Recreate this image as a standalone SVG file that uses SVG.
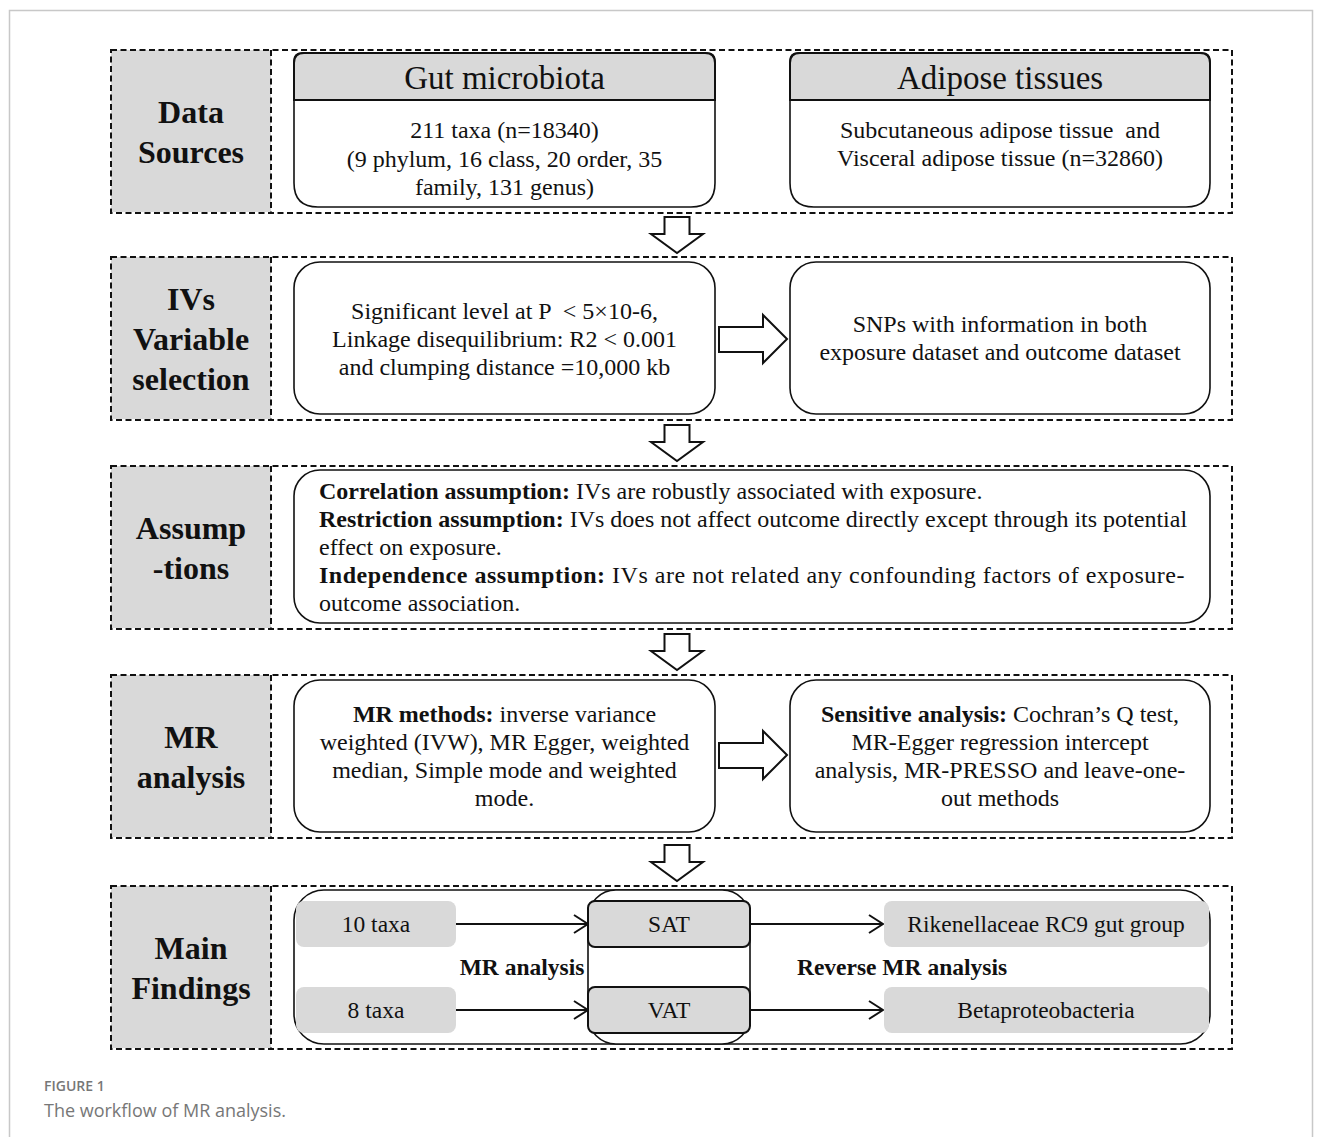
<svg xmlns="http://www.w3.org/2000/svg" width="1322" height="1137" viewBox="0 0 1322 1137">
<defs>
<style>
.frame{fill:none;stroke:#111;stroke-width:2;stroke-dasharray:6 3.5}
.div{fill:none;stroke:#111;stroke-width:2;stroke-dasharray:6 3.5}
.lbl{fill:#d9d9d9}
.lt{font-family:"Liberation Serif",serif;font-weight:bold;font-size:32px;fill:#111;text-anchor:middle}
.box{fill:#fff;stroke:#111;stroke-width:1.6}
.hdr{fill:#d9d9d9;stroke:#111;stroke-width:2}
.ht{font-family:"Liberation Serif",serif;font-size:33px;fill:#111;text-anchor:middle}
.t{font-family:"Liberation Serif",serif;font-size:24px;fill:#111;text-anchor:middle}
.tl{font-family:"Liberation Serif",serif;font-size:24px;fill:#111}
.f{font-size:23.5px}
.b{font-weight:bold}
.pill{fill:#d9d9d9}
.blk{fill:#fff;stroke:#111;stroke-width:2}
.con{fill:none;stroke:#111;stroke-width:2}
</style>
<marker id="ah" markerWidth="16" markerHeight="20" refX="15" refY="10" orient="auto" markerUnits="userSpaceOnUse">
<polyline points="1,1 15,10 1,19" fill="none" stroke="#111" stroke-width="2"/>
</marker>
</defs>
<rect width="1322" height="1137" fill="#fff"/>
<path d="M9.5,1137 V10.5 H1312.5 V1137" fill="none" stroke="#c8c8c8" stroke-width="1.5"/>

<!-- Row 1 -->
<g id="row-data-sources">
<rect class="lbl" x="111" y="50" width="160" height="162"/>
<rect class="frame" x="111" y="50" width="1121" height="163"/>
<line class="div" x1="271" y1="50" x2="271" y2="213"/>
<text class="lt" x="191" y="123">Data</text>
<text class="lt" x="191" y="163">Sources</text>
</g>
<g id="node-gut">
<path class="box" d="M302,53 H707 Q715,53 715,61 V183 Q715,207 691,207 H318 Q294,207 294,183 V61 Q294,53 302,53 Z"/>
<path class="hdr" d="M304,53 H705 Q715,53 715,63 V100 H294 V63 Q294,53 304,53 Z"/>
<text class="ht" x="504.5" y="89">Gut microbiota</text>
<text class="t" x="504.5" y="138">211 taxa (n=18340)</text>
<text class="t" x="504.5" y="167">(9 phylum, 16 class, 20 order, 35</text>
<text class="t" x="504.5" y="195">family, 131 genus)</text>
</g>
<g id="node-adipose">
<path class="box" d="M798,53 H1202 Q1210,53 1210,61 V183 Q1210,207 1186,207 H814 Q790,207 790,183 V61 Q790,53 798,53 Z"/>
<path class="hdr" d="M800,53 H1200 Q1210,53 1210,63 V100 H790 V63 Q790,53 800,53 Z"/>
<text class="ht" x="1000" y="89">Adipose tissues</text>
<text class="t" x="1000" y="138" xml:space="preserve">Subcutaneous adipose tissue  and</text>
<text class="t" x="1000" y="166">Visceral adipose tissue (n=32860)</text>
</g>

<!-- Row 2 -->
<g id="row-ivs">
<rect class="lbl" x="111" y="257" width="160" height="162"/>
<rect class="frame" x="111" y="257" width="1121" height="163"/>
<line class="div" x1="271" y1="257" x2="271" y2="420"/>
<text class="lt" x="191" y="310">IVs</text>
<text class="lt" x="191" y="350">Variable</text>
<text class="lt" x="191" y="390">selection</text>
</g>
<g id="node-iv-criteria">
<rect class="box" x="294" y="262" width="421" height="152" rx="26"/>
<text class="t" x="504.5" y="319" xml:space="preserve">Significant level at P  &lt; 5×10-6,</text>
<text class="t" x="504.5" y="347">Linkage disequilibrium: R2 &lt; 0.001</text>
<text class="t" x="504.5" y="375">and clumping distance =10,000 kb</text>
</g>
<g id="node-snps">
<rect class="box" x="790" y="262" width="420" height="152" rx="26"/>
<text class="t" x="1000" y="332">SNPs with information in both</text>
<text class="t" x="1000" y="360">exposure dataset and outcome dataset</text>
</g>

<!-- Row 3 -->
<g id="row-assumptions">
<rect class="lbl" x="111" y="466" width="160" height="162"/>
<rect class="frame" x="111" y="466" width="1121" height="163"/>
<line class="div" x1="271" y1="466" x2="271" y2="629"/>
<text class="lt" x="191" y="539">Assump</text>
<text class="lt" x="191" y="579">-tions</text>
</g>
<g id="node-assumptions">
<rect class="box" x="294" y="470" width="916" height="153" rx="26"/>
<text class="tl" x="319" y="499"><tspan class="b">Correlation assumption:</tspan> IVs are robustly associated with exposure.</text>
<text class="tl" x="319" y="527"><tspan class="b">Restriction assumption:</tspan> IVs does not affect outcome directly except through its potential</text>
<text class="tl" x="319" y="555">effect on exposure.</text>
<text class="tl" x="319" y="583" letter-spacing="0.52"><tspan class="b">Independence assumption:</tspan> IVs are not related any confounding factors of exposure-</text>
<text class="tl" x="319" y="611">outcome association.</text>
</g>

<!-- Row 4 -->
<g id="row-mr">
<rect class="lbl" x="111" y="675" width="160" height="162"/>
<rect class="frame" x="111" y="675" width="1121" height="163"/>
<line class="div" x1="271" y1="675" x2="271" y2="838"/>
<text class="lt" x="191" y="748">MR</text>
<text class="lt" x="191" y="788">analysis</text>
</g>
<g id="node-mr-methods">
<rect class="box" x="294" y="680" width="421" height="152" rx="26"/>
<text class="t" x="504.5" y="722"><tspan class="b">MR methods:</tspan> inverse variance</text>
<text class="t" x="504.5" y="750">weighted (IVW), MR Egger, weighted</text>
<text class="t" x="504.5" y="778">median, Simple mode and weighted</text>
<text class="t" x="504.5" y="806">mode.</text>
</g>
<g id="node-sensitive">
<rect class="box" x="790" y="680" width="420" height="152" rx="26"/>
<text class="t" x="1000" y="722"><tspan class="b">Sensitive analysis:</tspan> Cochran’s Q test,</text>
<text class="t" x="1000" y="750">MR-Egger regression intercept</text>
<text class="t" x="1000" y="778">analysis, MR-PRESSO and leave-one-</text>
<text class="t" x="1000" y="806">out methods</text>
</g>

<!-- Row 5 -->
<g id="row-findings">
<rect class="lbl" x="111" y="886" width="160" height="162"/>
<rect class="frame" x="111" y="886" width="1121" height="163"/>
<line class="div" x1="271" y1="886" x2="271" y2="1049"/>
<text class="lt" x="191" y="959">Main</text>
<text class="lt" x="191" y="999">Findings</text>
</g>
<g id="node-findings-container">
<rect class="box" x="294" y="890" width="916" height="154" rx="30"/>
<rect class="box" x="588" y="890" width="162" height="154" rx="28"/>
<text class="tl f b" x="522" y="975" text-anchor="middle">MR analysis</text>
<text class="tl f b" x="902" y="975" text-anchor="middle">Reverse MR analysis</text>
</g>
<g id="node-10taxa">
<rect class="pill" x="296" y="901" width="160" height="46" rx="8"/>
<text class="t f" x="376" y="932">10 taxa</text>
</g>
<g id="node-8taxa">
<rect class="pill" x="296" y="987" width="160" height="46" rx="8"/>
<text class="t f" x="376" y="1018">8 taxa</text>
</g>
<g id="node-sat">
<rect class="hdr" x="588" y="901" width="162" height="46" rx="7"/>
<text class="t f" x="669" y="932">SAT</text>
</g>
<g id="node-vat">
<rect class="hdr" x="588" y="987" width="162" height="46" rx="7"/>
<text class="t f" x="669" y="1018">VAT</text>
</g>
<g id="node-rikenellaceae">
<rect class="pill" x="884" y="901" width="325" height="46" rx="8"/>
<text class="t f" x="1046" y="932">Rikenellaceae RC9 gut group</text>
</g>
<g id="node-beta">
<rect class="pill" x="884" y="987" width="325" height="46" rx="8"/>
<text class="t f" x="1046" y="1018">Betaproteobacteria</text>
</g>

<!-- Connectors -->
<g id="connectors">
<polygon class="blk" points="664.5,217 689.5,217 689.5,234 703,234 677,253 651,234 664.5,234"/>
<polygon class="blk" points="664.5,425 689.5,425 689.5,442 703,442 677,461 651,442 664.5,442"/>
<polygon class="blk" points="664.5,634 689.5,634 689.5,651 703,651 677,670 651,651 664.5,651"/>
<polygon class="blk" points="664.5,845 689.5,845 689.5,862 703,862 677,881 651,862 664.5,862"/>
<polygon class="blk" points="719,327 763,327 763,315 787,339 763,363 763,352 719,352"/>
<polygon class="blk" points="719,743 763,743 763,731 787,755 763,779 763,768 719,768"/>
<line class="con" x1="456" y1="924" x2="588" y2="924" marker-end="url(#ah)"/>
<line class="con" x1="456" y1="1010" x2="588" y2="1010" marker-end="url(#ah)"/>
<line class="con" x1="750" y1="924" x2="883" y2="924" marker-end="url(#ah)"/>
<line class="con" x1="750" y1="1010" x2="883" y2="1010" marker-end="url(#ah)"/>
</g>

<text x="44" y="1091" font-family="'Open Sans',sans-serif" font-size="14" font-weight="600" fill="#777">FIGURE 1</text>
<text x="44" y="1117" font-family="'Open Sans',sans-serif" font-size="18" fill="#777">The workflow of MR analysis.</text>
</svg>
